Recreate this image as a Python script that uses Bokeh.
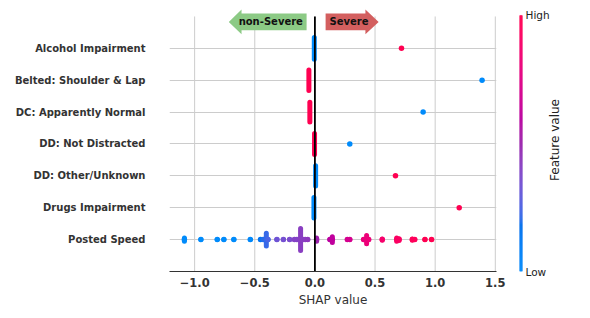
import numpy as np
from bokeh.plotting import figure
from bokeh.layouts import row
from bokeh.models import Range1d, FixedTicker, ColumnDataSource
from bokeh.transform import linear_cmap
from bokeh.core.properties import value
from bokeh.embed import file_html
from bokeh.resources import INLINE

# ---------------- data ----------------
features = ["Alcohol Impairment", "Belted: Shoulder & Lap", "DC: Apparently Normal",
            "DD: Not Distracted", "DD: Other/Unknown", "Drugs Impairment", "Posted Speed"]

# binary features: main (stacked) cluster and the lone outlier
bin_main_x = [-0.005, -0.05, -0.042, -0.003, 0.006, -0.008]
bin_main_fv = [0, 1, 1, 1, 0, 0]
bin_main_spread = [0.34, 0.32, 0.31, 0.33, 0.32, 0.32]
bin_out_x = [0.72, 1.39, 0.90, 0.29, 0.67, 1.20]
bin_out_fv = [1, 0, 0, 0, 1, 1]

# Posted Speed (continuous feature)
ps_x = [-1.085, -0.948, -0.812, -0.757, -0.674, -0.537, -0.452, -0.43, -0.404, -0.39,
        -0.316, -0.262, -0.21, -0.17, -0.15, -0.135, -0.119, -0.10, -0.08, -0.06,
        0.014, 0.125, 0.145, 0.27, 0.29, 0.405, 0.43, 0.447, 0.56, 0.68, 0.70,
        0.81, 0.83, 0.915, 0.97]
ps_fv = [0, 0, 0, 0, 0, 0.02, 0.15, 0.2, 0.22, 0.25,
         0.33, 0.35, 0.37, 0.4, 0.4, 0.4, 0.42, 0.42, 0.42, 0.44,
         0.5, 0.6, 0.62, 0.7, 0.7, 0.8, 0.82, 0.82, 0.88, 0.92, 0.92,
         0.96, 0.96, 1.0, 1.0]
ps_spread = [0.05, 0, 0, 0, 0, 0, 0, 0, 0.2, 0,
             0, 0, 0, 0, 0, 0, 0.345, 0, 0, 0,
             0.05, 0, 0.09, 0, 0, 0, 0.13, 0, 0.02, 0.05, 0.03,
             0.02, 0, 0, 0]

x_ticks = [-1.0, -0.5, 0.0, 0.5, 1.0, 1.5]
x_lo, x_hi = -1.209, 1.51
arrow_labels = ["non-Severe", "Severe"]
arrow_colors = ["#8cca85", "#d35f5f"]
cbar_labels = {0: "Low", 1: "High"}
cbar_title = "Feature value"


# ---------------- SHAP red_blue colormap (LCH interpolation) ----------------
def shap_red_blue(n=256):
    l_vals = np.concatenate([np.linspace(54., 40., n // 2), np.linspace(40., 54., n - n // 2)])
    c_vals = np.linspace(70., 90., n)
    h_vals = np.linspace(4.6588, 0.35470565 + 2 * np.pi, n)
    out = []
    for L, C, H in zip(l_vals, c_vals, h_vals):
        a, b = C * np.cos(H), C * np.sin(H)
        fy = (L + 16) / 116.
        fx = fy + a / 500.
        fz = fy - b / 200.

        def finv(t):
            return t ** 3 if t ** 3 > 0.008856 else (t - 16 / 116.) / 7.787

        X, Y, Z = 0.95047 * finv(fx), finv(fy), 1.08883 * finv(fz)
        rgb = [3.2406 * X - 1.5372 * Y - 0.4986 * Z,
               -0.9689 * X + 1.8758 * Y + 0.0415 * Z,
               0.0557 * X - 0.2040 * Y + 1.0570 * Z]
        res = []
        for c in rgb:
            c = 1.055 * c ** (1 / 2.4) - 0.055 if c > 0.0031308 else 12.92 * c
            res.append(int(round(min(max(c, 0), 1) * 255)))
        out.append("#%02x%02x%02x" % tuple(res))
    return out


palette = shap_red_blue(256)
cmap = linear_cmap("fv", palette, 0, 1)

n = len(features)
ypos = {f: n - 1 - i for i, f in enumerate(features)}

# ---------------- main figure ----------------
p = figure(frame_width=327, frame_height=263, min_border_left=169, min_border_right=17,
           min_border_top=8, min_border_bottom=38, title=None,
           x_range=Range1d(x_lo, x_hi), y_range=Range1d(-1, 7.25),
           toolbar_location=None, output_backend="svg")
p.outline_line_color = None
p.xgrid.visible = False
p.ygrid.grid_line_color = "#cccccc"
p.ygrid.grid_line_width = 1

# vertical grid lines (span the rows only)
p.segment(x0=x_ticks, x1=x_ticks, y0=[-1] * len(x_ticks), y1=[n] * len(x_ticks),
          line_color="#cccccc", line_width=1)

# points
bin_rows = [ypos[f] for f in features[:-1]]
main_src = ColumnDataSource(dict(
    x=bin_main_x, fv=bin_main_fv,
    y0=[r - s for r, s in zip(bin_rows, bin_main_spread)],
    y1=[r + s for r, s in zip(bin_rows, bin_main_spread)]))
p.segment(x0="x", x1="x", y0="y0", y1="y1", source=main_src, line_color=cmap,
          line_width=5, line_cap="round")
out_src = ColumnDataSource(dict(x=bin_out_x, y=bin_rows, fv=bin_out_fv))
p.scatter("x", "y", source=out_src, size=5.5, fill_color=cmap, line_color=None)

r_ps = ypos["Posted Speed"]
ps_src = ColumnDataSource(dict(
    x=ps_x, fv=ps_fv, y=[r_ps] * len(ps_x),
    y0=[r_ps - s for s in ps_spread], y1=[r_ps + s for s in ps_spread]))
p.segment(x0="x", x1="x", y0="y0", y1="y1", source=ps_src, line_color=cmap,
          line_width=5, line_cap="round")
p.scatter("x", "y", source=ps_src, size=5.5, fill_color=cmap, line_color=None)

# zero line
p.segment(x0=[0], x1=[0], y0=[-1], y1=[n], line_color="black", line_width=1.8)

# direction arrows
ay, hh, bh = 6.83, 0.39, 0.26
g_tip, g_base, g_tail = -0.716, -0.61, -0.069
r_tail, r_base, r_tip = 0.089, 0.42, 0.53
p.patches(xs=[[g_tip, g_base, g_base, g_tail, g_tail, g_base, g_base],
              [r_tip, r_base, r_base, r_tail, r_tail, r_base, r_base]],
          ys=[[ay, ay + hh, ay + bh, ay + bh, ay - bh, ay - bh, ay - hh]] * 2,
          fill_color=arrow_colors, line_color=None)
p.text(x=[-0.367, 0.283], y=[ay, ay], text=arrow_labels, text_align="center",
       text_baseline="middle", text_font=value("DejaVu Sans"), text_font_style="bold",
       text_font_size="10px", text_color="#111111")

# axes
p.yaxis.ticker = FixedTicker(ticks=list(range(n)))
p.yaxis.major_label_overrides = {ypos[f]: f for f in features}
p.yaxis.axis_line_color = None
p.yaxis.major_tick_line_color = None
p.yaxis.minor_tick_line_color = None
p.yaxis.major_tick_out = 0
p.yaxis.major_tick_in = 0
p.yaxis.minor_tick_out = 0
p.yaxis.major_label_standoff = 24
p.yaxis.major_label_text_font = "DejaVu Sans"
p.yaxis.major_label_text_font_style = "bold"
p.yaxis.major_label_text_font_size = "10px"
p.yaxis.major_label_text_color = "#333333"

p.xaxis.ticker = FixedTicker(ticks=x_ticks)
p.xaxis.major_label_overrides = {t: ("%.1f" % t).replace("-", "\u2212") for t in x_ticks}
p.xaxis.axis_line_color = "#333333"
p.xaxis.axis_line_width = 1.2
p.xaxis.major_tick_line_color = None
p.xaxis.minor_tick_line_color = None
p.xaxis.major_tick_out = 0
p.xaxis.major_tick_in = 0
p.xaxis.minor_tick_out = 0
p.xaxis.major_label_standoff = 6
p.xaxis.major_label_text_font = "DejaVu Sans"
p.xaxis.major_label_text_font_style = "bold"
p.xaxis.major_label_text_font_size = "11.5px"
p.xaxis.major_label_text_color = "#333333"
p.xaxis.axis_label = "SHAP value"
p.xaxis.axis_label_standoff = 3
p.xaxis.axis_label_text_font = "DejaVu Sans"
p.xaxis.axis_label_text_font_style = "normal"
p.xaxis.axis_label_text_font_size = "12px"
p.xaxis.axis_label_text_color = "#333333"

# ---------------- colour bar figure (frame = the bar itself) ----------------
c = figure(frame_width=3, frame_height=263, x_range=Range1d(0, 1), y_range=Range1d(0, 1.0273),
           x_axis_location=None, y_axis_location="right", min_border_left=6,
           min_border_right=27, min_border_top=8, min_border_bottom=38, title=None,
           toolbar_location=None, output_backend="svg")
c.outline_line_color = None
c.grid.visible = False
edges = np.linspace(0, 1, len(palette) + 1)
c.quad(left=0, right=1, bottom=edges[:-1], top=edges[1:], fill_color=palette,
       line_color=palette, line_width=0.6)
ax = c.yaxis[0]
ax.ticker = FixedTicker(ticks=list(cbar_labels.keys()))
ax.major_label_overrides = cbar_labels
ax.axis_line_color = None
ax.major_tick_line_color = None
ax.minor_tick_line_color = None
ax.major_tick_out = 0
ax.major_tick_in = 0
ax.minor_tick_out = 0
ax.major_label_standoff = 3
ax.major_label_text_font = "DejaVu Sans"
ax.major_label_text_font_size = "10.5px"
ax.major_label_text_color = "#222222"

# ---------------- colour bar title (left axis label of a slim figure) ----------------
t = figure(frame_width=1, frame_height=263, x_range=Range1d(0, 1), y_range=Range1d(0, 1.0273),
           x_axis_location=None, y_axis_location="left", min_border_left=0,
           min_border_right=0, min_border_top=8, min_border_bottom=38, title=None,
           toolbar_location=None, output_backend="svg")
t.outline_line_color = None
t.grid.visible = False
t.border_fill_color = None
t.background_fill_color = None
try:
    t.margin = (0, 0, 0, -8)
except Exception:
    pass
tax = t.yaxis[0]
tax.ticker = FixedTicker(ticks=[])
tax.bounds = (0, 1)
tax.axis_line_color = None
tax.major_tick_line_color = None
tax.minor_tick_line_color = None
tax.major_tick_out = 0
tax.major_tick_in = 0
tax.minor_tick_out = 0
tax.major_label_standoff = 0
tax.axis_label = cbar_title
tax.axis_label_standoff = 0
tax.axis_label_text_font = "DejaVu Sans"
tax.axis_label_text_font_style = "normal"
tax.axis_label_text_font_size = "12px"
tax.axis_label_text_color = "#222222"

layout = row(p, c, t)
open("out.html", "w").write(file_html(layout, INLINE))
